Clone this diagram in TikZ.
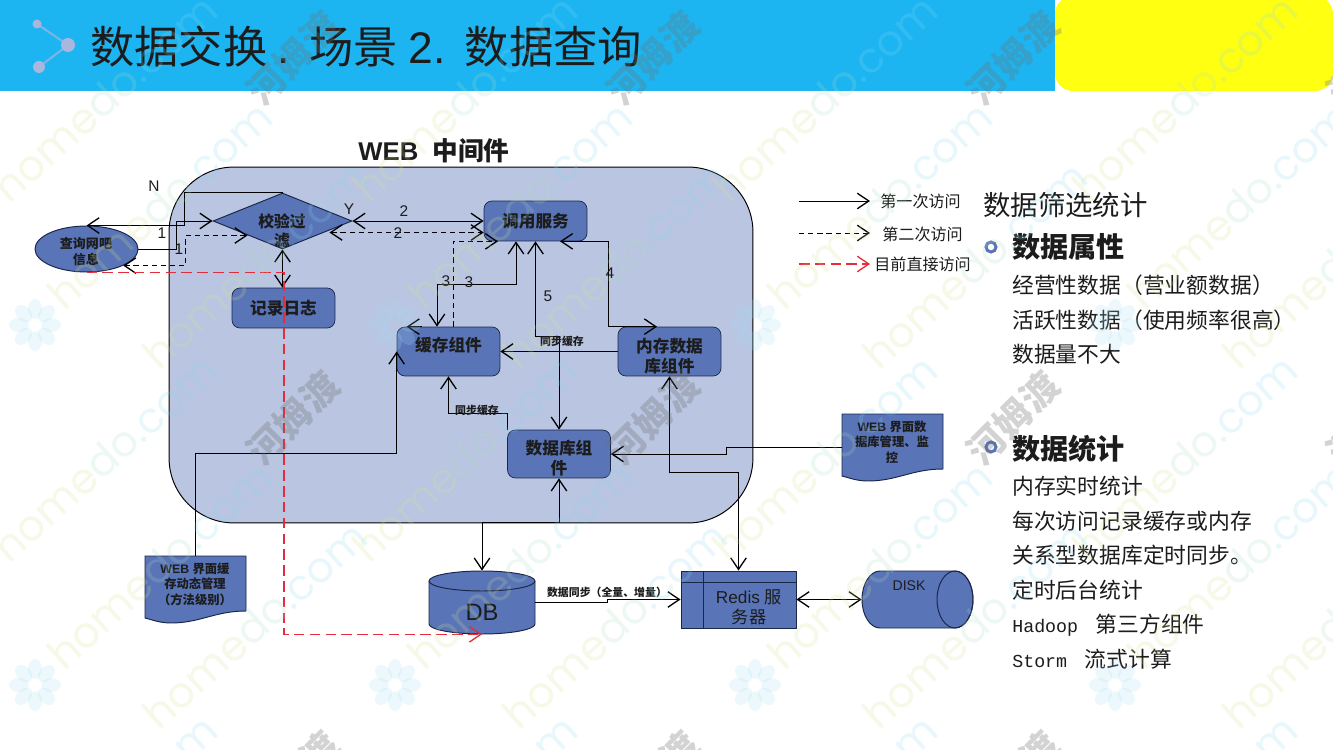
\documentclass[tikz,border=0pt]{standalone}
\usepackage{fontspec}
\setmainfont{Liberation Sans}
\newfontfamily\cjk{Noto Sans CJK SC}
\newfontfamily\monofam{Liberation Mono}
\newfontfamily\wmfam{Poppins}
\usetikzlibrary{arrows.meta,shapes.geometric}
\definecolor{bandblue}{HTML}{1CB5F1}
\definecolor{markyellow}{HTML}{FFFF12}
\definecolor{iconblue}{HTML}{A9B7DF}
\definecolor{panelblue}{HTML}{B9C5E1}
\definecolor{boxblue}{HTML}{5974B7}
\definecolor{boxline}{HTML}{1A2748}
\definecolor{inkdark}{HTML}{1C1C1C}
\definecolor{redline}{HTML}{E42C3A}
\definecolor{wmgreen}{HTML}{D3E48C}
\definecolor{wmcyan}{HTML}{8ADBF2}
\definecolor{wmgray}{HTML}{707070}
\definecolor{wmflower}{HTML}{A5DDF3}
\newcommand{\docpath}{(0,0) -- (101,0) -- (101,55) .. controls (70,55) and (55,67) .. (26,67) .. controls (15,67) and (8,64) .. (0,62) -- cycle}
\newcommand{\wmtext}{\textcolor{wmgreen}{home}\textcolor{wmgreen!50!wmcyan}{do}\textcolor{wmcyan}{.com}}
\tikzset{
  compbox/.style={draw=boxline,fill=boxblue,rounded corners=0.16cm,minimum width=2.06cm,align=center,inner sep=0pt,text=inkdark,font=\cjk\bfseries\fontsize{9.5}{11.5}\selectfont},
  bluefill/.style={draw=boxline,fill=boxblue,line width=.55pt},
  link/.style={line width=.55pt,black},
  dashlink/.style={link,dash pattern=on 3pt off 2.2pt},
  redlink/.style={line width=.95pt,redline,dash pattern=on 6pt off 3pt},
  numtext/.style={inner sep=0pt,text=inkdark,font=\fontsize{8.8}{10}\selectfont},
  smalltext/.style={inner sep=0pt,text=inkdark,font=\cjk\bfseries\fontsize{6.2}{7}\selectfont},
  doctext/.style={inner sep=0pt,align=center,text=inkdark,font=\bfseries\fontsize{7}{8.8}\selectfont},
  legendtext/.style={inner sep=0pt,anchor=west,text=inkdark,font=\cjk\fontsize{9.15}{10}\selectfont},
  bodytext/.style={inner sep=0pt,anchor=west,text=inkdark,font=\cjk\fontsize{12.4}{14}\selectfont},
  headtext/.style={inner sep=0pt,anchor=west,text=inkdark,font=\cjk\bfseries\fontsize{16}{18}\selectfont},
  ringdot/.style={circle,draw=boxblue,line width=1.7pt,fill=white,minimum size=.2cm,inner sep=0pt},
  anchorbox/.style={inner sep=0pt},
  >={Straight Barb[length=2.3mm,width=3.1mm,line width=.75pt]},
}
\begin{document}
\begin{tikzpicture}[x=0.02cm,y=-0.02cm]
\useasboundingbox (0,0) rectangle (1333,750);
\clip (0,0) rectangle (1333,750);
% title band
\fill[white] (0,0) rectangle (1333,750);
\fill[bandblue] (0,0) rectangle (1055,91);
\fill[markyellow,rounded corners=0.36cm] (1055,-4) rectangle (1333,91);
\coordinate (iconA) at (37,24);
\coordinate (iconB) at (68,45);
\coordinate (iconC) at (39,67);
\draw[iconblue!65!bandblue,line width=1.2pt] (iconA) -- (iconB) -- (iconC);
\foreach \p/\r in {iconA/4.5,iconB/7,iconC/6} \fill[iconblue] (\p) circle [radius=\r];
\node[inner sep=0pt,anchor=west,text=inkdark,font=\cjk\fontsize{25.2}{30}\selectfont] (title) at (90,47) {\makebox[124.7pt][l]{数据交换\hspace{6pt}{\rmfamily .}}\makebox[88.4pt][l]{场景\hspace{6pt}{\rmfamily 2.}}数据查询};
% middleware panel
\node[draw=black,fill=panelblue,line width=.55pt,rounded corners=1.3cm,minimum width=11.68cm,minimum height=7.12cm] (panel) at (461,345) {};
\node[inner sep=0pt,text=inkdark,font=\bfseries\fontsize{14.6}{17}\selectfont] (paneltitle) at (434,151) {WEB\ \ {\cjk 中间件}};
% nodes
\node[ellipse,bluefill,minimum width=2.06cm,minimum height=.92cm,inner sep=0pt] (query) at (86.5,249) {};
\node[inner sep=0pt,align=center,text=inkdark,font=\cjk\bfseries\fontsize{7.4}{9}\selectfont] (querytext) at (86,251.5) {查询网吧\\信息};
\node[diamond,bluefill,minimum width=2.78cm,minimum height=1.12cm,inner sep=0pt,aspect=2.5] (check) at (282.5,221) {};
\node[inner sep=0pt,align=center,text=inkdark,font=\cjk\bfseries\fontsize{9}{10.4}\selectfont] (checktext) at (282,231) {校验过\\滤};
\node[compbox,minimum height=.8cm] (log) at (283.5,308) {记录日志};
\node[compbox,minimum height=.8cm] (service) at (535.5,221) {调用服务};
\node[compbox,minimum height=.98cm,text depth=.3cm] (cache) at (448.5,351.5) {缓存组件};
\node[compbox,minimum height=.98cm] (memdb) at (669.5,351.5) {\rule{0pt}{13pt}内存数据\\库组件};
\node[compbox,minimum height=.96cm] (dbcomp) at (559,454) {\rule{0pt}{13pt}数据库组\\件};
\draw[bluefill,shift={(145,556)}] \docpath;
\draw[bluefill,shift={(842,414)}] \docpath;
\node[doctext] (webcache) at (195,584) {WEB {\cjk 界面缓}\\{\cjk 存动态管理}\\{\cjk （方法级别）}};
\node[doctext] (webmgr) at (892,442) {WEB {\cjk 界面数}\\{\cjk 据库管理、监}\\{\cjk 控}};
\coordinate (webcachetop) at (195,556);
\coordinate (webmgrleft) at (842,447);
% db cylinder
\draw[bluefill] (429,581) -- (429,624) arc[start angle=180,end angle=0,x radius=53,y radius=10] -- (535,581) arc[start angle=0,end angle=-180,x radius=53,y radius=10] -- cycle;
\draw[boxline,line width=.55pt] (429,581) arc[start angle=180,end angle=0,x radius=53,y radius=10];
\node[anchorbox,minimum width=2.12cm,minimum height=1.26cm] (db) at (482,602.5) {};
\node[inner sep=0pt,text=inkdark,font=\fontsize{13.5}{16}\selectfont] (dbtext) at (482,612) {DB};
\node[rectangle,bluefill,minimum width=2.3cm,minimum height=1.14cm,inner sep=0pt] (redis) at (738.5,599.5) {};
\draw[boxline,line width=.55pt] (703,571) -- (703,628) (681,582) -- (796,582);
\node[inner sep=0pt,align=center,text=inkdark,font=\fontsize{9.8}{11.6}\selectfont] (redistext) at (749,607) {Redis {\cjk 服}\\{\cjk 务器}};
% disk drum
\draw[bluefill] (880,571) -- (955,571) arc[start angle=-90,end angle=90,x radius=18,y radius=28.5] -- (880,628) arc[start angle=90,end angle=270,x radius=18,y radius=28.5] -- cycle;
\draw[boxline,line width=.55pt] (955,599.5) ellipse [x radius=18,y radius=28.5];
\node[anchorbox,minimum width=2.22cm,minimum height=1.14cm] (disk) at (917.5,599.5) {};
\node[inner sep=0pt,text=inkdark,font=\fontsize{8}{10}\selectfont] (disktext) at (909,586) {DISK};
% connectors
\draw[link,->] (query.east) -- ++(38,0) |- (check.west);
\draw[link,->] (check.north) -- ++(-98.5,0) |- (query.north);
\draw[dashlink,<->] ([xshift=-.7cm,yshift=-.29cm]check.center) -- ++(-62,0) |- (query.south east);
\draw[link,<->] (check.south) -- (check.south |- log.north);
\draw[link,<->] (check.east) -- (service.west);
\draw[dashlink,<->] ([xshift=.94cm,yshift=-.23cm]check.center) -- ([yshift=-.23cm]service.west);
\draw[dashlink,->] ([xshift=.09cm]cache.north) |- ([xshift=-.75cm]service.south);
\draw[link,<->] ([xshift=-.39cm]service.south) -- ++(0,43) -| ([xshift=-.23cm]cache.north);
\draw[link,<->] (service.south) -- ++(0,95) -| (dbcomp.north);
\draw[link,<->] ([xshift=.49cm]service.south) -- ++(48,0) |- ([xshift=-.25cm]memdb.north);
\draw[link,->] (memdb.west) -- (cache.east);
\draw[link,->] (dbcomp.north west) -- ++(0,-16) -| (cache.south);
\draw[link,->] (webcachetop) -- ++(0,-103) -| (cache.west);
\draw[link,->] ([xshift=.5cm]cache.north west) -- ([xshift=.2cm]cache.north west);
\draw[link,->] (webmgrleft) -- ++(-116,0) |- (dbcomp.east);
\draw[link,<->] (redis.north) -- ++(0,-98) -| (memdb.south);
\draw[link,<->] (db.north) -- ++(0,-48) -| (dbcomp.south);
\draw[link,->] (db.east) -- ++(72,0) |- (redis.west);
\draw[link,<->] (redis.east) -- (disk.west);
\draw[redlink,->] (query.south) -- ++(197.5,0) |- (db.south);
% connector labels
\node[numtext] (labN) at (154,186) {N};
\node[numtext] (labY) at (349,209) {Y};
\node[numtext] (labA) at (162,233) {1};
\node[numtext] (labB) at (179,249) {1};
\node[numtext] (labC) at (404,211) {2};
\node[numtext] (labD) at (398,233) {2};
\node[numtext] (labE) at (446,281) {3};
\node[numtext] (labF) at (469,282) {3};
\node[numtext] (labG) at (610,273) {4};
\node[numtext] (labH) at (548,296) {5};
\node[smalltext] (syncA) at (562,341) {同步缓存};
\node[smalltext] (syncB) at (477,410) {同步缓存};
\node[smalltext] (syncC) at (607,592) {数据同步（全量、增量）};
% legend
\coordinate (legA) at (799,201);
\coordinate (legB) at (799,233);
\coordinate (legC) at (799,264);
\node[legendtext] (legtextA) at (880,201) {第一次访问};
\node[legendtext] (legtextB) at (882,234) {第二次访问};
\node[legendtext] (legtextC) at (874,264) {目前直接访问};
\draw[link,->] (legA) -- ++(71,0);
\draw[dashlink,->] (legB) -- ++(71,0);
\draw[redlink,->] (legC) -- ++(71,0);
% right column
\node[inner sep=0pt,anchor=west,text=inkdark,font=\cjk\fontsize{15.6}{18}\selectfont] (rightA) at (983,205) {数据筛选统计};
\node[ringdot] (dotA) at (991,247) {};
\node[headtext] (headA) at (1012,247) {数据属性};
\node[ringdot] (dotB) at (991,447) {};
\node[headtext] (headB) at (1012,449) {数据统计};
\foreach \n/\y/\txt in {a/285/经营性数据（营业额数据）,b/320/活跃性数据（使用频率很高）,c/354/数据量不大,d/486/内存实时统计,e/521/每次访问记录缓存或内存,f/555/关系型数据库定时同步。,g/590/定时后台统计}
  \node[bodytext] (body\n) at (1012,\y) {\txt};
\node[bodytext] (bodyh) at (1012,625) {{\monofam\fontsize{10.4}{14}\selectfont Hadoop}\hspace{10pt}第三方组件};
\node[bodytext] (bodyi) at (1012,659) {{\monofam\fontsize{10.4}{14}\selectfont Storm}\hspace{10pt}流式计算};
% watermark
\begin{scope}[opacity=.2]
\foreach \i in {0,360,720,1080} {
  \foreach \j in {0,360} \foreach \cx/\cy in {105/98,160/205,255/265}
    \node[rotate=42,inner sep=0pt,font=\wmfam\fontsize{24}{26}\selectfont] at (\cx+\i,\cy+\j) {\wmtext};
  \node[rotate=42,inner sep=0pt,font=\wmfam\fontsize{24}{26}\selectfont] at (105+\i,818) {\wmtext};
  \foreach \j in {325,685} \foreach \a in {0,45,...,315}
    \fill[wmflower,shift={(35+\i,\j)},rotate=\a] (16,0) ellipse [x radius=10,y radius=7];
}
\end{scope}
\begin{scope}[opacity=.3]
\foreach \i in {0,360,720,1080} \foreach \j in {0,360,720}
  \node[rotate=45,inner sep=0pt,text=wmgray,font=\cjk\bfseries\fontsize{21}{22}\selectfont] at (293+\i,58+\j) {河姆渡};
\end{scope}
\end{tikzpicture}
\end{document}
